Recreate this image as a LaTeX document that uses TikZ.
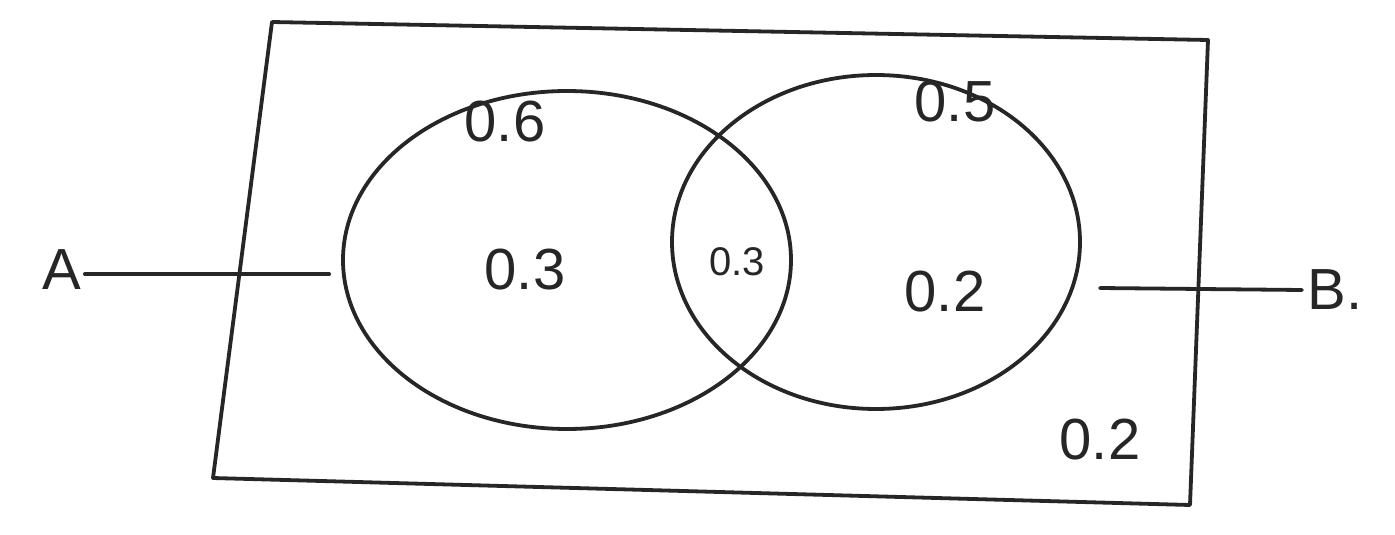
\documentclass[tikz,border=0pt]{standalone}
\usepackage{fontspec}
\setmainfont{Liberation Sans}
\usetikzlibrary{shapes.geometric,calc}
\begin{document}
\begin{tikzpicture}[x=1pt,y=-1pt,
  pen/.style={line width=3.8pt,black!85,line cap=round,line join=round},
  setshape/.style={ellipse,pen,draw,inner sep=0pt},
  lbl/.style={font=\fontsize{58}{62}\selectfont,text=black!85},
  smalllbl/.style={font=\fontsize{40}{44}\selectfont,text=black!85}]
\useasboundingbox (0,0) rectangle (1395,535);
\fill[white] (0,0) rectangle (1395,535);
% universal rectangle (slightly skewed, hand drawn)
\coordinate (tl) at (272,22);
\coordinate (tr) at (1208,40);
\coordinate (br) at (1190,505);
\coordinate (bl) at (213,478);
\draw[pen] (tl) -- (tr) -- (br) -- (bl) -- cycle;
% sets
\node[setshape,minimum width=448,minimum height=338] (SA) at (567,260) {};
\node[setshape,minimum width=408,minimum height=334] (SB) at (876,242) {};
% labels
\node[lbl] (pA) at (505,122) {0.6};
\node[lbl] (pB) at (955,102) {0.5};
\node[lbl] (onlyA) at (525,270) {0.3};
\node[smalllbl] (both) at (737,262) {0.3};
\node[lbl] (onlyB) at (945,292) {0.2};
\node[lbl] (none) at (1100,440) {0.2};
% set names
\node[lbl] (A) at (62,270) {A};
\node[lbl] (B) at (1335,290) {B.};
\draw[pen] ($(A.east)+(0,4)$) coordinate (a0) -- ($(SA.west)+(-12,14)$) coordinate (a1);
\draw[pen] ($(SB.east)+(18,46)$) coordinate (b0) -- ($(B.west)+(-2,0)$) coordinate (b1);
\end{tikzpicture}
\end{document}
